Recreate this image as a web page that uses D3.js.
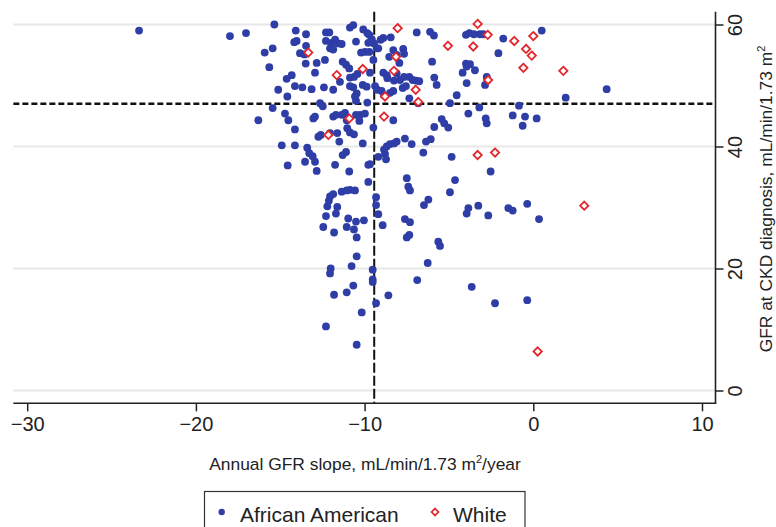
<!DOCTYPE html>
<html><head><meta charset="utf-8">
<script src="https://cdn.jsdelivr.net/npm/d3@7"></script>
<style>body{margin:0;background:#fff}svg{display:block;font-family:"Liberation Sans",Arial,sans-serif}</style>
</head><body><svg id="c" width="776" height="527"></svg>
<script>
const xTicks = [-30, -20, -10, 0, 10];
const yTicks = [0, 20, 40, 60];
const meanSlope = -9.43;
const meanGfr = 47.0;
const seriesNames = ["African American", "White"];
const xTitle = "Annual GFR slope, mL/min/1.73 m";
const yTitle = "GFR at CKD diagnosis, mL/min/1.73 m";

const aaSlope = [-23.37,-17.98,-17.03,-15.35,-14.08,-13.47,-12.29,-12.09,-10.87,-10.67,-10.08,-9.84,-9.72,-14.17,-14.03,-13.47,-12.29,-11.95,-11.75,-11.56,-11.36,-12.05,-11.86,-10.51,-9.78,-9.58,-9.44,-9.28,-9.05,-8.89,-8.45,-15.92,-15.45,-13.83,-13.57,-13.49,-12.84,-12.35,-11.30,-11.10,-10.91,-10.21,-9.98,-9.72,-9.48,-9.19,-8.54,-8.30,-8.10,-7.71,-7.66,-7.94,-6.91,-6.12,-5.89,-6.00,-15.65,-12.94,-14.62,-14.32,-11.46,-10.87,-10.63,-10.43,-9.68,-8.89,-8.69,-8.65,-8.26,-8.10,-7.90,-7.66,-7.35,-7.15,-6.95,-6.76,-5.87,-5.73,-14.13,-13.69,-13.14,-12.41,-11.86,-10.87,-10.67,-10.11,-9.88,-9.38,-9.25,-8.99,-8.85,-8.49,-8.30,-7.74,-7.55,-15.12,-14.58,-10.57,-10.51,-10.47,-9.84,-7.35,-6.82,-4.94,-4.54,-3.99,-3.75,-3.95,-4.19,-3.46,-3.95,-2.86,-2.76,-3.99,-3.79,-3.52,-3.16,-2.96,-2.07,-1.78,-15.45,-16.30,-14.72,-14.52,-12.64,-12.48,-13.04,-12.94,-11.86,-11.70,-11.36,-11.16,-11.06,-11.03,-10.51,-10.27,-9.98,-10.31,-9.48,-8.30,-14.13,-12.74,-12.60,-12.05,-11.62,-11.50,-10.87,-10.63,-10.11,-5.43,-5.28,-5.04,-5.87,-3.85,-3.20,-2.82,-2.76,-14.91,-14.13,-13.40,-13.28,-13.08,-12.94,-13.53,-12.84,-14.56,-11.75,-11.30,-11.10,-10.91,-9.78,-9.68,-9.19,-8.85,-8.69,-8.49,-8.26,-8.10,-8.79,-8.73,-7.61,-7.21,-6.52,-6.36,-6.08,-4.84,-2.53,-9.78,-7.50,-7.41,-7.31,-6.22,-4.94,-4.64,-12.05,-11.86,-11.36,-11.06,-10.87,-10.57,-6.48,-12.12,-12.21,-12.29,-11.70,-11.62,-12.45,-11.81,-10.97,-11.06,-10.51,-10.63,-10.04,-10.47,-9.32,-9.32,-9.19,-8.93,-7.61,-7.31,-7.50,-7.35,-5.63,-5.53,-3.95,-3.85,-3.26,-2.67,-10.47,-12.01,-12.05,-10.77,-9.52,-9.52,-9.52,-10.67,-11.06,-11.81,-8.59,-9.32,-10.17,-12.29,-10.47,-6.88,-6.26,-3.65,-2.27,-1.48,-1.22,-0.36,0.34,-0.36,0.50,4.35,1.92,-0.85,-1.22,-0.49,0.20,-0.63];
const aaGfr = [59.0,58.1,58.6,60.0,59.0,58.4,58.7,58.7,59.5,59.9,59.2,58.6,58.3,57.1,57.3,56.5,57.3,57.0,57.5,56.9,56.8,56.1,55.9,57.2,57.0,57.6,56.9,56.1,57.5,57.8,57.9,55.4,56.1,55.3,55.1,53.6,53.7,54.2,53.9,53.4,52.8,55.4,55.5,55.5,54.2,56.1,54.7,55.8,55.0,56.0,55.2,53.7,58.7,58.8,58.2,53.9,53.0,52.1,51.1,51.7,50.6,51.3,51.4,51.9,52.1,52.1,51.7,51.2,50.8,52.0,50.9,51.4,51.4,50.9,50.8,50.7,51.3,50.1,49.9,49.7,49.4,49.7,49.3,49.9,49.7,50.1,49.8,49.9,49.3,49.1,48.4,48.8,49.1,49.6,49.9,49.3,48.2,48.2,47.5,48.7,47.2,47.9,47.1,47.1,48.4,53.6,53.5,53.1,52.1,52.5,50.4,50.1,51.4,58.3,58.6,58.4,58.4,58.4,55.3,57.7,46.3,44.3,45.4,44.3,47.1,46.6,44.6,44.9,44.9,45.2,45.2,45.5,44.3,43.0,45.2,45.2,45.4,44.2,43.1,44.3,42.8,41.6,41.9,42.2,42.2,40.8,42.3,42.0,40.5,44.5,43.8,43.1,43.2,45.4,46.4,44.6,43.8,40.2,40.2,39.8,38.9,38.4,37.5,37.5,36.0,36.9,37.0,38.6,39.1,35.9,37.0,37.1,38.3,39.5,40.0,40.4,40.5,40.8,38.8,37.9,41.3,40.4,39.0,40.8,41.2,38.3,35.9,34.2,34.8,33.4,32.8,31.3,32.5,34.5,31.8,32.2,32.6,32.8,32.9,32.8,30.4,31.1,30.2,28.6,29.0,30.1,26.8,25.9,28.2,26.8,27.7,26.4,27.9,25.1,31.7,30.4,28.9,27.1,28.1,27.6,25.1,25.5,24.4,23.7,29.0,29.9,30.3,28.7,22.0,20.0,19.2,20.4,19.8,18.2,17.8,17.2,16.1,15.7,15.6,14.3,12.8,10.5,7.5,18.1,20.9,17.0,14.3,29.9,29.5,30.6,28.1,14.8,59.0,49.4,48.0,46.7,45.1,44.9,44.6,43.4];

const whSlope = [-8.04,-3.30,-2.70,-5.06,-3.56,-13.34,-8.14,-10.11,-11.65,-8.26,-6.97,-6.82,-10.91,-8.85,-12.15,-3.30,-2.27,-1.13,0.00,-0.43,-0.09,-0.59,1.78,-2.68,3.02,0.26,-8.79];
const whGfr = [59.4,60.1,58.3,56.5,56.4,55.4,54.7,52.7,51.7,52.4,49.3,47.3,44.6,44.9,41.9,38.6,39.0,57.3,58.1,56.0,54.9,52.9,52.4,50.9,30.3,6.4,48.2];

const svg = d3.select("#c");
svg.append("rect").attr("width",776).attr("height",527).attr("fill","#fff");

const x = d3.scaleLinear().domain([-30, 10]).range([27.2, 702]);
const y = d3.scaleLinear().domain([0, 60]).range([390.5, 24.5]);
const xLo = -30.82, xHi = 10.8, yLo = -2.1, yHi = 62.1;
const ink = "#222";

// gridlines
svg.append("g").selectAll("line").data(yTicks).join("line")
  .attr("x1", x(xLo)).attr("x2", x(xHi))
  .attr("y1", d => y(d)).attr("y2", d => y(d))
  .attr("stroke", "#e8e8e8").attr("stroke-width", 1.8);

// reference lines
svg.append("line").attr("x1", x(xLo)).attr("x2", x(xHi))
  .attr("y1", y(meanGfr)).attr("y2", y(meanGfr))
  .attr("stroke", "#111").attr("stroke-width", 2.6).attr("stroke-dasharray", "6,3");
svg.append("line").attr("x1", x(meanSlope)).attr("x2", x(meanSlope))
  .attr("y1", y(yHi)).attr("y2", y(yLo))
  .attr("stroke", "#111").attr("stroke-width", 2).attr("stroke-dasharray", "10,3");

// points
const aa = aaSlope.map((s,i) => ({s, g: aaGfr[i]}));
const wh = whSlope.map((s,i) => ({s, g: whGfr[i]}));
svg.append("g").selectAll("circle").data(aa).join("circle")
  .attr("cx", d => x(d.s)).attr("cy", d => y(d.g)).attr("r", 3.9)
  .attr("fill", "#2f3ea6");
const diamond = d3.symbol().type(d3.symbolDiamond2).size(44);
svg.append("g").selectAll("path").data(wh).join("path")
  .attr("d", diamond)
  .attr("transform", d => `translate(${x(d.s)},${y(d.g)})`)
  .attr("fill", "#fff").attr("stroke", "#e3262b").attr("stroke-width", 1.8);

// x axis
const xAxisY = y(yLo);
const gx = svg.append("g").attr("transform", `translate(0,${xAxisY})`)
  .call(d3.axisBottom(x).tickValues(xTicks).tickSize(8).tickSizeOuter(0));
gx.select(".domain").remove();
gx.selectAll(".tick line").attr("stroke", ink).attr("stroke-width", 1.5);
gx.selectAll(".tick text").attr("dy", null).attr("y", 28)
  .attr("font-size", 20).attr("fill", ink).attr("font-family", "Liberation Sans, Arial, sans-serif");
svg.append("line").attr("x1", x(xLo)).attr("x2", x(xHi)+0.7).attr("y1", xAxisY).attr("y2", xAxisY)
  .attr("stroke", ink).attr("stroke-width", 1.6);

// y axis (right)
const yAxisX = x(xHi);
const gy = svg.append("g").attr("transform", `translate(${yAxisX},0)`)
  .call(d3.axisRight(y).tickValues(yTicks).tickSize(8).tickSizeOuter(0));
gy.select(".domain").remove();
gy.selectAll(".tick line").attr("stroke", ink).attr("stroke-width", 1.5);
gy.selectAll(".tick text").attr("x", null).attr("dy", null)
  .attr("transform", "translate(26.5,0) rotate(-90)")
  .attr("text-anchor", "middle").attr("font-size", 20).attr("fill", ink)
  .attr("font-family", "Liberation Sans, Arial, sans-serif");
svg.append("line").attr("x1", yAxisX).attr("x2", yAxisX).attr("y1", y(yHi)).attr("y2", xAxisY+0.7)
  .attr("stroke", ink).attr("stroke-width", 1.6);

// titles
const xt = svg.append("text").attr("x", 365).attr("y", 470).attr("text-anchor", "middle")
  .attr("font-size", 17.4).attr("fill", ink);
xt.append("tspan").text(xTitle);
xt.append("tspan").text("2").attr("font-size", 11).attr("dy", -7);
xt.append("tspan").text("/year").attr("dy", 7);

const yt = svg.append("text").attr("transform", "translate(772,199) rotate(-90)")
  .attr("text-anchor", "middle").attr("font-size", 17.4).attr("fill", ink);
yt.append("tspan").text(yTitle);
yt.append("tspan").text("2").attr("font-size", 11).attr("dy", -7);

// legend
const lg = svg.append("g");
lg.append("rect").attr("x", 204.5).attr("y", 491.5).attr("width", 320.5).attr("height", 45)
  .attr("fill", "#fff").attr("stroke", "#333").attr("stroke-width", 1.2);
lg.append("circle").attr("cx", 221.7).attr("cy", 512).attr("r", 3.2).attr("fill", "#2f3ea6");
lg.append("text").attr("x", 240).attr("y", 521.5).attr("font-size", 21).attr("fill", ink).text(seriesNames[0]);
lg.append("path").attr("d", d3.symbol().type(d3.symbolDiamond2).size(30))
  .attr("transform", "translate(435,512)")
  .attr("fill", "#fff").attr("stroke", "#e3262b").attr("stroke-width", 1.7);
lg.append("text").attr("x", 453).attr("y", 521.5).attr("font-size", 21).attr("fill", ink).text(seriesNames[1]);
</script></body></html>
